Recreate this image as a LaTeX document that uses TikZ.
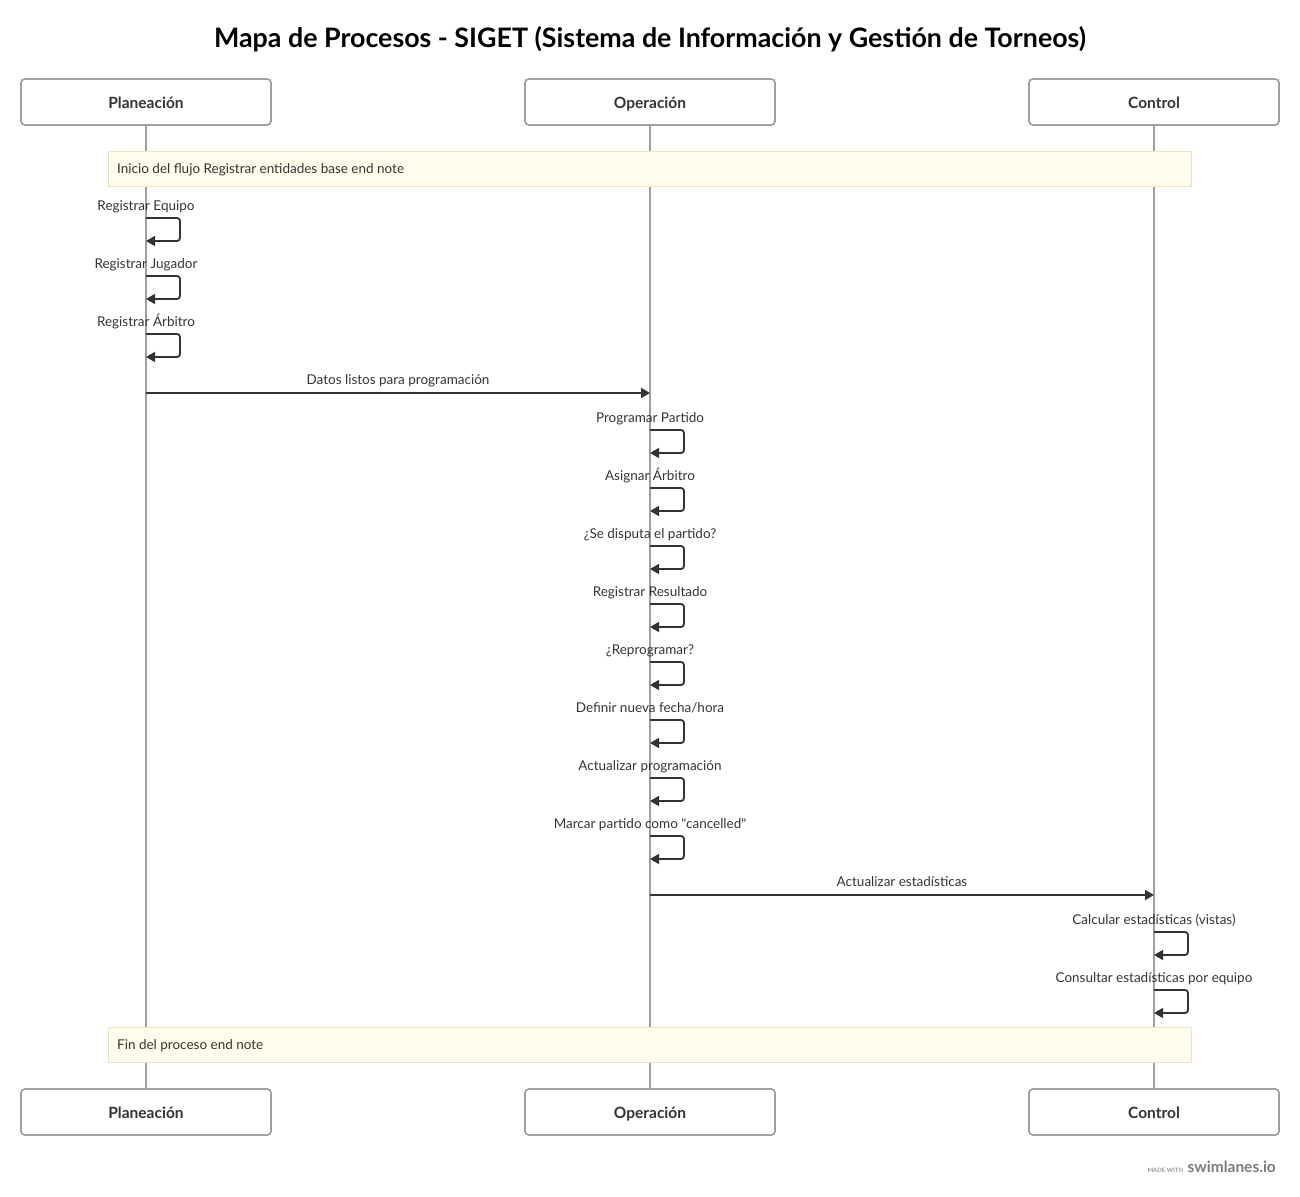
\documentclass[tikz,border=0pt]{standalone}
\usepackage{fontspec}
\setmainfont{Lato}[Ligatures=TeXOff]
\usetikzlibrary{arrows.meta}
\definecolor{lanegray}{HTML}{A0A0A0}
\definecolor{msgdark}{HTML}{333333}
\definecolor{notefill}{HTML}{FFFCEC}
\definecolor{noteline}{HTML}{E8E4C4}
\definecolor{footgray}{HTML}{7A7A7A}
\newcommand{\LaneP}{146}
\newcommand{\LaneO}{650}
\newcommand{\LaneC}{1154}
\newcommand{\LoopW}{34}
\newcommand{\LoopH}{23}

\begin{document}
\begin{tikzpicture}[x=1pt,y=-1pt,
  lane/.style={draw=lanegray, line width=1.6pt, rounded corners=4pt, fill=white,
    minimum width=250pt, minimum height=46pt, inner sep=0pt,
    text height=16pt, text depth=3pt,
    font=\bfseries\fontsize{15.5}{18}\selectfont, text=msgdark},
  lifeline/.style={draw=lanegray, line width=1.6pt},
  note/.style={draw=noteline, fill=notefill, line width=1pt, anchor=north west,
    minimum width=1083pt, minimum height=35pt, inner sep=0pt},
  notetext/.style={anchor=west, inner sep=0pt, text height=10pt, text depth=3pt,
    font=\fontsize{13.5}{16}\selectfont, text=msgdark},
  lbl/.style={inner sep=0pt, text height=10pt, text depth=3pt,
    font=\fontsize{13.5}{16}\selectfont, text=msgdark},
  msg/.style={draw=msgdark, line width=1.8pt, -{Triangle[length=9pt,width=10pt]}},
  selfmsg/.style={msg, rounded corners=3pt}]

\useasboundingbox (0,0) rectangle (1300,1196);

% title
\node[font=\bfseries\fontsize{26.8}{31}\selectfont, text=black] (title) at (650,39)
  {Mapa de Procesos - SIGET (Sistema de Información y Gestión de Torneos)};

% lanes
\node[lane] (pTop) at (\LaneP,102) {Planeación};
\node[lane] (oTop) at (\LaneO,102) {Operación};
\node[lane] (cTop) at (\LaneC,102) {Control};
\node[lane] (pBot) at (\LaneP,1112) {Planeación};
\node[lane] (oBot) at (\LaneO,1112) {Operación};
\node[lane] (cBot) at (\LaneC,1112) {Control};

\draw[lifeline] (pTop) -- (pBot);
\draw[lifeline] (oTop) -- (oBot);
\draw[lifeline] (cTop) -- (cBot);
% redraw boxes over the lines
\node[lane] at (\LaneP,102) {Planeación};
\node[lane] at (\LaneO,102) {Operación};
\node[lane] at (\LaneC,102) {Control};
\node[lane] at (\LaneP,1112) {Planeación};
\node[lane] at (\LaneO,1112) {Operación};
\node[lane] at (\LaneC,1112) {Control};

% notes
\node[note] (noteA) at (108,151) {};
\node[notetext] (noteAtxt) at (117,170) {Inicio del flujo Registrar entidades base end note};
\node[note] (noteB) at (108,1027) {};
\node[notetext] (noteBtxt) at (117,1046) {Fin del proceso end note};

% Planeacion self steps
\foreach \y/\txt [count=\i] in {206/Registrar Equipo, 264/Registrar Jugador, 322/Registrar Árbitro} {
  \node[lbl] (pl\i) at (\LaneP,\y+1) {\txt};
  \coordinate (ps\i) at (\LaneP,\y+12);
  \draw[selfmsg] (ps\i) -- ++(\LoopW,0) -- ++(0,\LoopH) -- ++(-\LoopW,0);
}

% Planeacion -> Operacion
\coordinate (datosA) at (\LaneP,393);
\coordinate (datosB) at (\LaneO,393);
\draw[msg] (datosA) -- (datosB);
\node[lbl] (datos) at (398,381) {Datos listos para programación};

% Operacion self steps
\foreach \y/\txt [count=\i] in {418/Programar Partido, 476/Asignar Árbitro,
    534/¿Se disputa el partido?, 592/Registrar Resultado, 650/¿Reprogramar?,
    708/{Definir nueva fecha/hora}, 766/Actualizar programación,
    824/Marcar partido como "cancelled"} {
  \node[lbl] (ol\i) at (\LaneO,\y+1) {\txt};
  \coordinate (os\i) at (\LaneO,\y+12);
  \draw[selfmsg] (os\i) -- ++(\LoopW,0) -- ++(0,\LoopH) -- ++(-\LoopW,0);
}

% Operacion -> Control
\coordinate (estA) at (\LaneO,895);
\coordinate (estB) at (\LaneC,895);
\draw[msg] (estA) -- (estB);
\node[lbl] (est) at (902,883) {Actualizar estadísticas};

% Control self steps
\foreach \y/\txt [count=\i] in {920/Calcular estadísticas (vistas), 978/Consultar estadísticas por equipo} {
  \node[lbl] (cl\i) at (\LaneC,\y+1) {\txt};
  \coordinate (cs\i) at (\LaneC,\y+12);
  \draw[selfmsg] (cs\i) -- ++(\LoopW,0) -- ++(0,\LoopH) -- ++(-\LoopW,0);
}

% footer
\node[anchor=base east, font=\bfseries\fontsize{15.5}{17}\selectfont, text=footgray, inner sep=0pt]
  (brand) at (1276,1172) {swimlanes.io};
\node[anchor=base east, font=\bfseries\fontsize{6}{7}\selectfont, text=footgray!80, inner sep=0pt]
  (made) at ([xshift=-4pt]brand.base west) {MADE WITH};

\end{tikzpicture}
\end{document}
